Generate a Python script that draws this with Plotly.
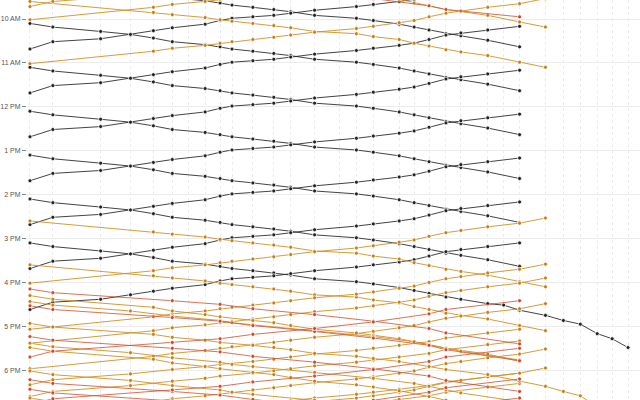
import plotly.graph_objects as go

# ---------------- stations (south-bound order) ----------------
station_codes = ["SF", "22", "BS", "SSF", "SB", "MB", "BW", "BU", "SM", "HP", "HD", "BM",
                 "SC", "RC", "AT", "MP", "PA", "CA", "SA", "MV", "SV", "LW", "SCL", "CP",
                 "SJ", "TAM", "CAP", "BH", "MH", "SMR", "GIL"]
station_names = ["San Francisco", "22nd Street", "Bayshore", "South San Francisco", "San Bruno",
                 "Millbrae", "Broadway", "Burlingame", "San Mateo", "Hayward Park", "Hillsdale",
                 "Belmont", "San Carlos", "Redwood City", "Atherton", "Menlo Park", "Palo Alto",
                 "California Ave", "San Antonio", "Mountain View", "Sunnyvale", "Lawrence",
                 "Santa Clara", "College Park", "San Jose", "Tamien", "Capitol", "Blossom Hill",
                 "Morgan Hill", "San Martin", "Gilroy"]
station_position = [0.0, 2.3, 7.1, 10.1, 12.4, 14.3, 15.9, 17.6, 19.1, 20.3, 22.4, 24.5,
                    26.2, 28.6, 31.1, 32.8, 34.5, 37.1, 38.6, 40.1, 41.8, 43.3, 46.0, 47.6,
                    49.2, 51.8, 53.6, 55.3, 57.0, 58.5, 60.1]

hour_values = [600, 660, 720, 780, 840, 900, 960, 1020, 1080]
hour_labels = ["10 AM", "11 AM", "12 PM", "1 PM", "2 PM", "3 PM", "4 PM", "5 PM", "6 PM"]

# ---------------- stop patterns ----------------
local_sb_stops = "SF 22 BS SSF SB MB BU SM HP HD BM SC RC MP PA CA SA MV SV LW SCL SJ".split()
local_nb_stops = "SJ SCL LW SV MV SA CA PA MP RC SC BM HD HP SM BU MB SB SSF BS 22 SF".split()
gilroy_stops = ("SF 22 BS SSF SB MB BU SM HP HD BM SC RC MP PA CA SA MV SV LW SCL CP SJ "
                "TAM CAP BH MH SMR GIL").split()
limited_sb_midday_stops = "SF SB MB BU SM HP HD BM SC RC MP PA CA SA MV SV LW SCL SJ TAM".split()
limited_nb_midday_stops = "TAM SJ SCL LW SV MV SA CA PA MP RC SC BM HD HP SM BU MB SB SF".split()
limited_nb_peak_stops = "SJ SCL SV MV CA PA MP RC SC BM HD SM BU MB SSF 22 SF".split()
limited_sb_a_stops = "SF 22 SB MB BU SM HD BM SC RC MP PA CA MV SV SCL SJ".split()
limited_sb_b_stops = "SF 22 SSF MB SM HP HD RC PA SA MV SV LW SJ".split()
limited_sb_south_stops = "SF 22 SB MB BU SM HD BM SC RC MP PA CA MV SV SCL SJ TAM CAP BH MH".split()
bullet_sb_stops = "SF 22 MB SM HD RC PA MV SV SJ".split()
bullet_nb_stops = "SJ SV MV PA RC HD SM MB 22 SF".split()

# ---------------- timetables ----------------
local_sb_times = [
    ["9:06", "9:11", "9:17", "9:21", "9:26", "9:31", "9:35", "9:38", "9:41", "9:44", "9:47", "9:50", "9:55", "9:59", "10:02", "10:07", "10:11", "10:15", "10:20", "10:23", "10:29", "10:38"],
    ["10:06", "10:11", "10:17", "10:21", "10:26", "10:31", "10:35", "10:38", "10:41", "10:44", "10:47", "10:50", "10:55", "10:59", "11:02", "11:07", "11:11", "11:15", "11:20", "11:23", "11:29", "11:38"],
    ["11:06", "11:11", "11:17", "11:21", "11:26", "11:31", "11:35", "11:38", "11:41", "11:44", "11:47", "11:50", "11:55", "11:59", "12:02", "12:07", "12:11", "12:15", "12:20", "12:23", "12:29", "12:38"],
    ["12:06", "12:11", "12:17", "12:21", "12:26", "12:31", "12:35", "12:38", "12:41", "12:44", "12:47", "12:50", "12:55", "12:59", "13:02", "13:07", "13:11", "13:15", "13:20", "13:23", "13:29", "13:38"],
    ["13:06", "13:11", "13:17", "13:21", "13:26", "13:31", "13:35", "13:38", "13:41", "13:44", "13:47", "13:50", "13:55", "13:59", "14:02", "14:07", "14:11", "14:15", "14:20", "14:23", "14:29", "14:38"],
    ["14:06", "14:11", "14:17", "14:21", "14:26", "14:31", "14:35", "14:38", "14:41", "14:44", "14:47", "14:50", "14:55", "14:59", "15:02", "15:07", "15:11", "15:15", "15:20", "15:23", "15:29", "15:38"],
]
gilroy_times = [
    ["15:06", "15:11", "15:17", "15:21", "15:26", "15:31", "15:35", "15:38", "15:41", "15:44", "15:47", "15:50", "15:55", "15:59", "16:02", "16:07", "16:11", "16:15", "16:20", "16:23", "16:29", "16:31", "16:38", "16:45", "16:52", "16:57", "17:10", "17:17", "17:29"],
]
local_nb_times = [
    ["9:10", "9:15", "9:19", "9:22", "9:28", "9:33", "9:36", "9:40", "9:43", "9:48", "9:52", "9:55", "9:57", "9:59", "10:02", "10:07", "10:12", "10:16", "10:21", "10:27", "10:31", "10:41"],
    ["10:10", "10:15", "10:19", "10:22", "10:28", "10:33", "10:36", "10:40", "10:43", "10:48", "10:52", "10:55", "10:57", "10:59", "11:02", "11:07", "11:12", "11:16", "11:21", "11:27", "11:31", "11:41"],
    ["11:10", "11:15", "11:19", "11:22", "11:28", "11:33", "11:36", "11:40", "11:43", "11:48", "11:52", "11:55", "11:57", "11:59", "12:02", "12:07", "12:12", "12:16", "12:21", "12:27", "12:31", "12:41"],
    ["12:10", "12:15", "12:19", "12:22", "12:28", "12:33", "12:36", "12:40", "12:43", "12:48", "12:52", "12:55", "12:57", "12:59", "13:02", "13:07", "13:12", "13:16", "13:21", "13:27", "13:31", "13:41"],
    ["13:10", "13:15", "13:19", "13:22", "13:28", "13:33", "13:36", "13:40", "13:43", "13:48", "13:52", "13:55", "13:57", "13:59", "14:02", "14:07", "14:12", "14:16", "14:21", "14:27", "14:31", "14:41"],
    ["14:10", "14:15", "14:19", "14:22", "14:28", "14:33", "14:36", "14:40", "14:43", "14:48", "14:52", "14:55", "14:57", "14:59", "15:02", "15:07", "15:12", "15:16", "15:21", "15:27", "15:31", "15:41"],
    ["15:06", "15:11", "15:15", "15:18", "15:24", "15:29", "15:32", "15:36", "15:39", "15:44", "15:48", "15:51", "15:53", "15:55", "15:58", "16:03", "16:08", "16:12", "16:17", "16:23", "16:27", "16:37"],
]
limited_sb_midday_times = [
    ["8:41", "8:56", "8:59", "9:03", "9:06", "9:08", "9:11", "9:14", "9:17", "9:22", "9:25", "9:29", "9:33", "9:38", "9:42", "9:47", "9:50", "9:55", "10:04", "10:11"],
    ["9:36", "9:51", "9:54", "9:58", "10:01", "10:03", "10:06", "10:09", "10:12", "10:17", "10:20", "10:24", "10:28", "10:33", "10:37", "10:42", "10:45", "10:50", "10:59", "11:06"],
    ["14:36", "14:51", "14:54", "14:58", "15:01", "15:03", "15:06", "15:09", "15:12", "15:17", "15:20", "15:24", "15:28", "15:33", "15:37", "15:42", "15:45", "15:50", "15:59", "16:06"],
    ["15:36", "15:51", "15:54", "15:58", "16:01", "16:03", "16:06", "16:09", "16:12", "16:17", "16:20", "16:24", "16:28", "16:33", "16:37", "16:42", "16:45", "16:50", "16:59", "17:06"],
]
limited_nb_midday_times = [
    ["8:32", "8:39", "8:44", "8:49", "8:52", "8:57", "9:02", "9:05", "9:10", "9:13", "9:18", "9:22", "9:25", "9:28", "9:31", "9:33", "9:36", "9:40", "9:44", "10:01"],
    ["9:32", "9:39", "9:44", "9:49", "9:52", "9:57", "10:02", "10:05", "10:10", "10:13", "10:18", "10:22", "10:25", "10:28", "10:31", "10:33", "10:36", "10:40", "10:44", "11:01"],
    ["14:32", "14:39", "14:44", "14:49", "14:52", "14:57", "15:02", "15:05", "15:10", "15:13", "15:18", "15:22", "15:25", "15:28", "15:31", "15:33", "15:36", "15:40", "15:44", "16:01"],
    ["15:35", "15:42", "15:47", "15:52", "15:55", "16:00", "16:05", "16:08", "16:13", "16:16", "16:21", "16:25", "16:28", "16:31", "16:34", "16:36", "16:39", "16:43", "16:47", "17:04"],
    ["15:54", "16:01", "16:06", "16:11", "16:14", "16:19", "16:24", "16:27", "16:32", "16:35", "16:40", "16:44", "16:47", "16:50", "16:53", "16:55", "16:58", "17:02", "17:06", "17:23"],
    ["16:29", "16:36", "16:41", "16:46", "16:49", "16:54", "16:59", "17:02", "17:07", "17:10", "17:15", "17:19", "17:22", "17:25", "17:28", "17:30", "17:33", "17:37", "17:41", "17:58"],
    ["17:31", "17:38", "17:43", "17:48", "17:51", "17:56", "18:01", "18:04", "18:09", "18:12", "18:17", "18:21", "18:24", "18:27", "18:30", "18:32", "18:35", "18:39", "18:43", "19:00"],
    ["17:57", "18:04", "18:09", "18:14", "18:17", "18:22", "18:27", "18:30", "18:35", "18:38", "18:43", "18:47", "18:50", "18:53", "18:56", "18:58", "19:01", "19:05", "19:09", "19:26"],
]
limited_nb_peak_times = [
    ["8:27", "8:32", "8:39", "8:44", "8:49", "8:53", "8:56", "9:01", "9:05", "9:08", "9:11", "9:15", "9:18", "9:22", "9:28", "9:36", "9:43"],
    ["17:04", "17:09", "17:16", "17:21", "17:26", "17:30", "17:33", "17:38", "17:42", "17:45", "17:48", "17:52", "17:55", "17:59", "18:05", "18:13", "18:20"],
    ["17:20", "17:25", "17:32", "17:37", "17:42", "17:46", "17:49", "17:54", "17:58", "18:01", "18:04", "18:08", "18:11", "18:15", "18:21", "18:29", "18:36"],
    ["18:04", "18:09", "18:16", "18:21", "18:26", "18:30", "18:33", "18:38", "18:42", "18:45", "18:48", "18:52", "18:55", "18:59", "19:05", "19:13", "19:20"],
    ["18:18", "18:23", "18:30", "18:35", "18:40", "18:44", "18:47", "18:52", "18:56", "18:59", "19:02", "19:06", "19:09", "19:13", "19:19", "19:27", "19:34"],
]
limited_sb_a_times = [
    ["16:18", "16:23", "16:34", "16:39", "16:44", "16:47", "16:52", "16:55", "16:59", "17:04", "17:09", "17:12", "17:17", "17:25", "17:30", "17:38", "17:48"],
    ["17:29", "17:34", "17:45", "17:50", "17:55", "17:58", "18:03", "18:06", "18:10", "18:15", "18:20", "18:23", "18:28", "18:36", "18:41", "18:49", "18:59"],
    ["18:38", "18:43", "18:54", "18:59", "19:04", "19:07", "19:12", "19:15", "19:19", "19:24", "19:29", "19:32", "19:37", "19:45", "19:50", "19:58", "20:08"],
]
limited_sb_b_times = [
    ["16:26", "16:31", "16:39", "16:46", "16:52", "16:55", "16:58", "17:06", "17:14", "17:21", "17:25", "17:30", "17:34", "17:46"],
    ["17:23", "17:28", "17:36", "17:43", "17:49", "17:52", "17:55", "18:03", "18:11", "18:18", "18:22", "18:27", "18:31", "18:43"],
    ["18:01", "18:06", "18:14", "18:21", "18:27", "18:30", "18:33", "18:41", "18:49", "18:56", "19:00", "19:05", "19:09", "19:21"],
]
limited_sb_south_times = [
    ["16:56", "17:01", "17:11", "17:15", "17:19", "17:22", "17:26", "17:29", "17:32", "17:37", "17:41", "17:44", "17:48", "17:55", "17:59", "18:06", "18:15", "18:22", "18:29", "18:35", "18:50"],
]
bullet_sb_times = [
    ["8:47", "8:52", "9:02", "9:07", "9:12", "9:20", "9:32", "9:42", "9:47", "9:57"],
    ["16:09", "16:14", "16:25", "16:30", "16:36", "16:44", "16:53", "17:03", "17:09", "17:24"],
    ["16:32", "16:37", "16:48", "16:53", "16:59", "17:07", "17:16", "17:26", "17:32", "17:47"],
    ["17:14", "17:19", "17:30", "17:35", "17:41", "17:49", "17:58", "18:08", "18:14", "18:29"],
    ["18:13", "18:18", "18:29", "18:34", "18:40", "18:48", "18:57", "19:07", "19:13", "19:28"],
    ["18:26", "18:31", "18:42", "18:47", "18:53", "19:01", "19:10", "19:20", "19:26", "19:41"],
]
bullet_nb_times = [
    ["16:25", "16:37", "16:43", "16:54", "17:03", "17:11", "17:17", "17:22", "17:34", "17:42"],
    ["17:30", "17:42", "17:48", "17:59", "18:08", "18:16", "18:22", "18:27", "18:39", "18:47"],
    ["18:12", "18:24", "18:30", "18:41", "18:50", "18:58", "19:04", "19:09", "19:21", "19:29"],
    ["18:38", "18:50", "18:56", "19:07", "19:16", "19:24", "19:30", "19:35", "19:47", "19:55"],
]

# ---------------- styles ----------------
colors = {"N": "rgb(34,34,34)", "L": "rgb(196,128,20)", "B": "rgb(204,72,40)"}
line_colors = {"N": "rgba(34,34,34,0.85)", "L": "rgba(210,144,36,0.9)", "B": "rgba(214,88,56,0.85)"}

services = [
    ("N", local_sb_stops, local_sb_times),
    ("N", gilroy_stops, gilroy_times),
    ("N", local_nb_stops, local_nb_times),
    ("L", limited_sb_midday_stops, limited_sb_midday_times),
    ("L", limited_nb_midday_stops, limited_nb_midday_times),
    ("L", limited_nb_peak_stops, limited_nb_peak_times),
    ("L", limited_sb_a_stops, limited_sb_a_times),
    ("L", limited_sb_b_stops, limited_sb_b_times),
    ("L", limited_sb_south_stops, limited_sb_south_times),
    ("B", bullet_sb_stops, bullet_sb_times),
    ("B", bullet_nb_stops, bullet_nb_times),
]

pos = dict(zip(station_codes, station_position))
name = dict(zip(station_codes, station_names))


def to_minutes(s):
    h, m = s.split(":")
    return int(h) * 60 + int(m)


fig = go.Figure()
for kind, stops, trains in services:
    for times in trains:
        fig.add_trace(go.Scatter(
            x=[pos[c] for c in stops],
            y=[to_minutes(t) for t in times],
            text=[name[c] for c in stops],
            mode="lines+markers",
            line=dict(color=line_colors[kind], width=1),
            marker=dict(color=colors[kind], size=4, line=dict(color="white", width=0.8)),
            hoverinfo="text",
            showlegend=False,
        ))

# view window (minutes): about 9:34 AM to 6:41 PM
fig.update_layout(
    width=640, height=400,
    margin=dict(l=24, r=0, t=0, b=0),
    paper_bgcolor="white", plot_bgcolor="white",
    font=dict(family="Liberation Sans, Arial, sans-serif", size=7, color="#555"),
    xaxis=dict(range=[-0.3, 61.3], tickvals=station_position, showticklabels=False,
               ticks="", showgrid=True, gridcolor="#ebebeb", griddash="dot", gridwidth=1,
               zeroline=False, showline=False),
    yaxis=dict(range=[1120.7, 574.0], tickvals=hour_values, ticktext=hour_labels,
               ticks="outside", ticklen=4, tickcolor="#888", tickwidth=1,
               showgrid=True, gridcolor="#ececec", gridwidth=1,
               zeroline=False, showline=False, tickfont=dict(size=7, color="#555")),
)

fig.write_html("out.html")
